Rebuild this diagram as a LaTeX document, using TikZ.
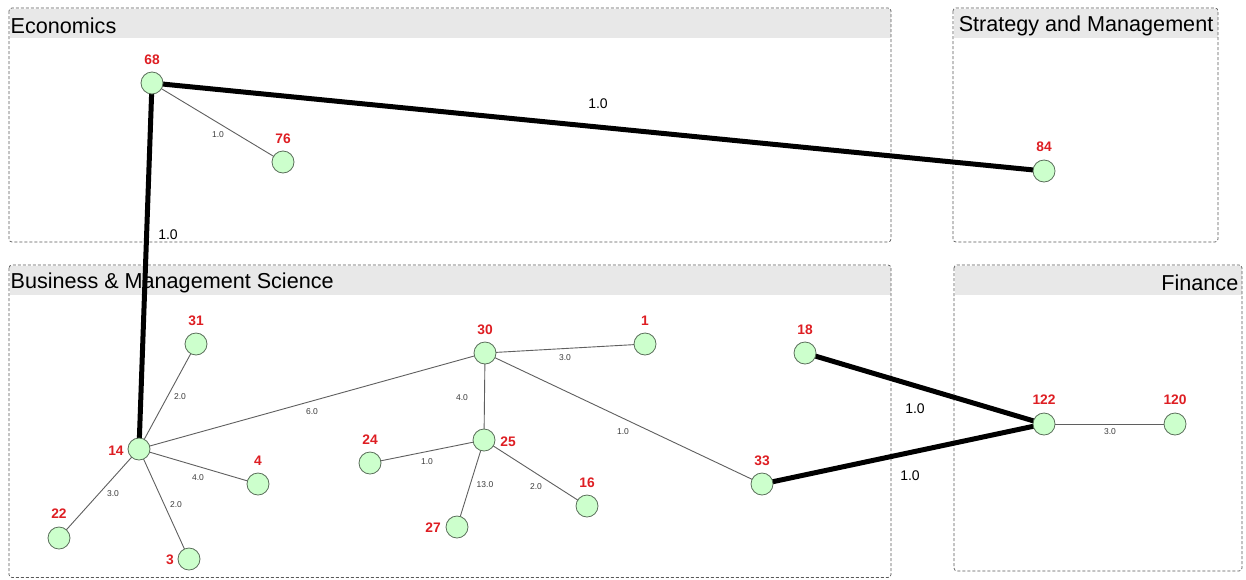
\documentclass[tikz,border=0pt]{standalone}
\usepackage{fontspec}
\setmainfont{Liberation Sans}
\pgfdeclarelayer{bg}
\pgfsetlayers{bg,main}
\begin{document}
\definecolor{nodefill}{RGB}{204,255,204}
\definecolor{nodeline}{RGB}{90,110,90}
\definecolor{lblred}{RGB}{222,30,35}
\definecolor{hdrgray}{RGB}{232,232,232}
\definecolor{boxline}{RGB}{90,90,90}
\definecolor{thinedge}{RGB}{95,95,95}
\definecolor{smalltxt}{RGB}{60,60,60}
\begin{tikzpicture}[x=1pt,y=-1pt,
  vert/.style={circle,draw=nodeline,fill=nodefill,line width=0.8pt,minimum size=22pt,inner sep=0pt},
  vlabel/.style={text=lblred,font=\fontsize{13.8}{13.8}\selectfont\bfseries,inner sep=0pt},
  thin/.style={draw=thinedge,line width=0.9pt},
  thick/.style={draw=black,line width=5pt},
  wsmall/.style={text=smalltxt,font=\fontsize{8.5}{8.5}\selectfont,inner sep=0pt},
  wbig/.style={text=black,font=\fontsize{14}{14}\selectfont,inner sep=0pt},
  groupbox/.style={draw=boxline,line width=0.7pt,rounded corners=3pt,dash pattern=on 3pt off 2pt},
  hdr/.style={fill=hdrgray},
  title/.style={font=\fontsize{21.6}{21.6}\selectfont,inner sep=0pt,text=black}
]
\useasboundingbox (0,0) rectangle (1246,579);

% vertices
\node[vert] (n68) at (152,83) {};
\node[vert] (n76) at (283,162) {};
\node[vert] (n84) at (1044,171) {};
\node[vert] (n14) at (139,449) {};
\node[vert] (n31) at (196,344) {};
\node[vert] (n4) at (258,484) {};
\node[vert] (n22) at (59,538) {};
\node[vert] (n3) at (189,559) {};
\node[vert] (n30) at (485,353) {};
\node[vert] (n1) at (645,344) {};
\node[vert] (n24) at (370,463) {};
\node[vert] (n25) at (484,440) {};
\node[vert] (n16) at (587,506) {};
\node[vert] (n27) at (457,527) {};
\node[vert] (n33) at (762,484) {};
\node[vert] (n18) at (805,353) {};
\node[vert] (n122) at (1044,424) {};
\node[vert] (n120) at (1175,424) {};

% vertex labels
\node[vlabel] (t68) at (152,60) {68};
\node[vlabel] (t76) at (283,139) {76};
\node[vlabel] (t84) at (1044,147) {84};
\node[vlabel] (t31) at (196,321) {31};
\node[vlabel] (t14) at (116,451) {14};
\node[vlabel] (t4) at (258,461) {4};
\node[vlabel] (t22) at (59,514) {22};
\node[vlabel] (t3) at (170,560) {3};
\node[vlabel] (t30) at (485,330) {30};
\node[vlabel] (t1) at (645,321) {1};
\node[vlabel] (t24) at (370,440) {24};
\node[vlabel] (t25) at (508,442) {25};
\node[vlabel] (t16) at (587,483) {16};
\node[vlabel] (t27) at (433,528) {27};
\node[vlabel] (t33) at (762,461) {33};
\node[vlabel] (t18) at (805,330) {18};
\node[vlabel] (t122) at (1044,400) {122};
\node[vlabel] (t120) at (1175,400) {120};

% edge weights
\node[wbig] (w1) at (598,104) {1.0};
\node[wbig] (w2) at (168,235) {1.0};
\node[wsmall] (w3) at (218,135) {1.0};
\node[wsmall] (w4) at (180,397) {2.0};
\node[wsmall] (w5) at (312,412) {6.0};
\node[wsmall] (w6) at (198,478) {4.0};
\node[wsmall] (w7) at (113,494) {3.0};
\node[wsmall] (w8) at (176,505) {2.0};
\node[wsmall] (w9) at (565,358) {3.0};
\node[wsmall] (w10) at (462,398) {4.0};
\node[wsmall] (w11) at (623,432) {1.0};
\node[wsmall] (w12) at (427,462) {1.0};
\node[wsmall] (w13) at (485,485) {13.0};
\node[wsmall] (w14) at (536,487) {2.0};
\node[wbig] (w15) at (915,409) {1.0};
\node[wbig] (w16) at (910,476) {1.0};
\node[wsmall] (w17) at (1110,432) {3.0};

\begin{pgfonlayer}{bg}
\fill[white] (0,0) rectangle (1246,579);
% group boxes
\fill[hdr] (9.5,8.5) rectangle (891,37.5);
\draw[groupbox] (9,8) rectangle (891,242);
\node[title,anchor=west] (g1) at (10.5,26) {Economics};

\fill[hdr] (953.5,8.5) rectangle (1218,37.5);
\draw[groupbox] (953,8) rectangle (1218,242);
\node[title,anchor=east] (g2) at (1213.5,26) {Strategy and Management};

\fill[hdr] (9.5,265.5) rectangle (891,295);
\draw[groupbox] (9,265) rectangle (891,577.5);
\node[title,anchor=west] (g3) at (10.5,283) {Business \& Management Science};

\fill[hdr] (954.5,265.5) rectangle (1242,295);
\draw[groupbox] (954,265) rectangle (1242,571);
\node[title,anchor=east] (g4) at (1238.5,283) {Finance};

% thin edges
\draw[thin] (n68.center) -- (n76.center);
\draw[thin] (n14.center) -- (n31.center);
\draw[thin] (n14.center) -- (n30.center);
\draw[thin] (n14.center) -- (n4.center);
\draw[thin] (n14.center) -- (n22.center);
\draw[thin] (n14.center) -- (n3.center);
\draw[thin] (n30.center) -- (n1.center);
\draw[thin] (n30.center) -- (n25.center);
\draw[thin] (n30.center) -- (n33.center);
\draw[thin] (n25.center) -- (n24.center);
\draw[thin] (n25.center) -- (n27.center);
\draw[thin] (n25.center) -- (n16.center);
\draw[thin] (n122.center) -- (n120.center);
% thick edges
\draw[thick] (n68.center) -- (n84.center);
\draw[thick] (n68.center) -- (n14.center);
\draw[thick] (n18.center) -- (n122.center);
\draw[thick] (n33.center) -- (n122.center);
\end{pgfonlayer}
\end{tikzpicture}
\end{document}
